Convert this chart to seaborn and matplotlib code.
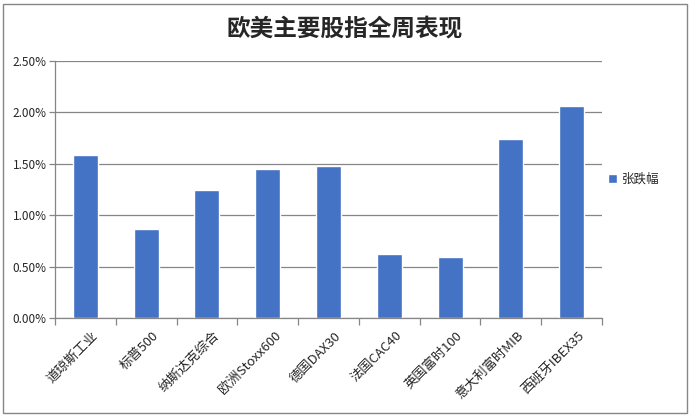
import matplotlib

matplotlib.use("Agg")
import matplotlib.pyplot as plt
import pandas as pd
import seaborn as sns
from matplotlib.patches import Patch, Rectangle
from matplotlib.ticker import FixedLocator, MultipleLocator, PercentFormatter
from matplotlib.transforms import ScaledTranslation


TITLE = "欧美主要股指全周表现"
SERIES_NAME = "张跌幅"
INDICES = [
    "道琼斯工业",
    "标普500",
    "纳斯达克综合",
    "欧洲Stoxx600",
    "德国DAX30",
    "法国CAC40",
    "英国富时100",
    "意大利富时MIB",
    "西班牙IBEX35",
]
CHANGE_PCT = [1.59, 0.87, 1.25, 1.45, 1.48, 0.62, 0.59, 1.74, 2.06]

BAR_COLOR = "#4472C4"
GRID_COLOR = "#868686"


def main() -> None:
    sns.set_theme(style="white")
    plt.rcParams["font.family"] = ["Noto Sans CJK SC", "DejaVu Sans"]

    df = pd.DataFrame({"index": INDICES, "change": CHANGE_PCT})

    fig = plt.figure(figsize=(6.89, 4.17), dpi=100)
    ax = fig.add_axes([0.0798, 0.2374, 0.794, 0.6163])

    sns.barplot(
        data=df,
        x="index",
        y="change",
        color=BAR_COLOR,
        width=0.41,
        saturation=1,
        ax=ax,
    )

    ax.set_xlim(-0.5, len(INDICES) - 0.5)
    ax.set_ylim(0, 2.5)
    ax.yaxis.set_major_locator(MultipleLocator(0.5))
    ax.yaxis.set_major_formatter(PercentFormatter(xmax=100, decimals=2))
    ax.grid(axis="y", color=GRID_COLOR, linewidth=0.9)
    ax.set_axisbelow(True)
    ax.set_xlabel("")
    ax.set_ylabel("")

    for side in ("top", "right"):
        ax.spines[side].set_visible(False)
    for side in ("left", "bottom"):
        ax.spines[side].set_color(GRID_COLOR)
        ax.spines[side].set_linewidth(0.9)

    ax.tick_params(axis="y", which="major", length=4, width=0.9, color=GRID_COLOR,
                   direction="out", labelsize=8.5, pad=2, left=True)
    ax.tick_params(axis="x", which="major", length=0, labelsize=9.5, pad=8)
    ax.xaxis.set_minor_locator(
        FixedLocator([i - 0.5 for i in range(len(INDICES) + 1)])
    )
    ax.tick_params(axis="x", which="minor", length=5, width=0.9,
                   color=GRID_COLOR, direction="out", bottom=True)
    shift = ScaledTranslation(6 / 100, 0, fig.dpi_scale_trans)
    for label in ax.get_xticklabels():
        label.set_rotation(45)
        label.set_ha("right")
        label.set_rotation_mode("anchor")
        label.set_transform(label.get_transform() + shift)

    ax.legend(
        handles=[Patch(facecolor=BAR_COLOR, label=SERIES_NAME)],
        loc="center left",
        bbox_to_anchor=(1.0, 0.54),
        frameon=False,
        handlelength=0.7,
        handleheight=0.7,
        handletextpad=0.4,
        borderaxespad=0.1,
        fontsize=9,
    )

    fig.text(0.5, 0.932, TITLE, ha="center", va="center",
             fontsize=17, fontweight="bold")

    fig.patches.append(
        Rectangle((3 / 689, 4 / 417), 684 / 689, 409 / 417,
                  transform=fig.transFigure, fill=False,
                  edgecolor=GRID_COLOR, linewidth=1)
    )

    fig.savefig("out.png", dpi=100)
    plt.close(fig)


if __name__ == "__main__":
    main()
